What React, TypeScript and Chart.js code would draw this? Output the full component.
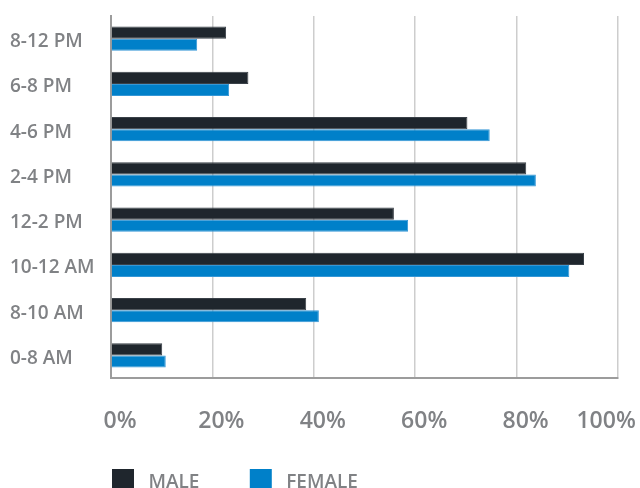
import React, { useEffect, useRef } from "react";
import { Chart, registerables } from "chart.js";

Chart.register(...registerables);

const CATEGORIES = ["8-12 PM", "6-8 PM", "4-6 PM", "2-4 PM", "12-2 PM", "10-12 AM", "8-10 AM", "0-8 AM"];
const MALE = [22.7, 27.1, 70.3, 81.9, 55.8, 93.3, 38.5, 10.1];
const FEMALE = [17.0, 23.3, 74.7, 83.8, 58.6, 90.4, 41.0, 10.8];
const SERIES_NAMES = ["MALE", "FEMALE"];
const X_MIN = 0;
const X_MAX = 100;
const X_STEP = 20;

const MALE_COLOR = "#1f262d";
const FEMALE_COLOR = "#0080c9";
const TEXT_COLOR = "#808285";
const FONT = "'Open Sans', 'DejaVu Sans', sans-serif";

export default function App() {
  const ref = useRef<HTMLCanvasElement | null>(null);

  useEffect(() => {
    const canvas = ref.current;
    if (!canvas) return;
    const chart = new Chart(canvas, {
      type: "bar",
      data: {
        labels: CATEGORIES,
        datasets: [
          {
            label: SERIES_NAMES[0],
            data: MALE,
            backgroundColor: MALE_COLOR,
            borderColor: "#3a4148",
            borderWidth: 1,
            categoryPercentage: 0.54,
            barPercentage: 1.0,
          },
          {
            label: SERIES_NAMES[1],
            data: FEMALE,
            backgroundColor: FEMALE_COLOR,
            borderColor: "#3597d6",
            borderWidth: 1,
            categoryPercentage: 0.54,
            barPercentage: 1.0,
          },
        ],
      },
      options: {
        indexAxis: "y",
        animation: false,
        responsive: false,
        maintainAspectRatio: false,
        layout: { padding: { top: 16, left: 10, right: 22, bottom: 0 } },
        scales: {
          x: {
            min: X_MIN,
            max: X_MAX,
            grid: { color: "#cdcdcd", lineWidth: 1.5, drawTicks: false },
            border: { display: true, color: "#9c9c9c", width: 2 },
            ticks: {
              stepSize: X_STEP,
              autoSkip: false,
              maxRotation: 0,
              minRotation: 0,
              padding: 30,
              labelOffset: 9,
              color: TEXT_COLOR,
              font: { family: FONT, size: 23, weight: "600" },
              callback: (v: any) => (Number(v) === X_MAX ? `${v}%       ` : `${v}%`),
            },
            afterFit: (s: any) => {
              s.height = 90;
              s.paddingLeft = 0;
              s.paddingRight = 0;
            },
          },
          y: {
            grid: { display: false, drawTicks: false },
            border: { display: true, color: "#9c9c9c", width: 2 },
            ticks: {
              crossAlign: "far",
              labelOffset: 3,
              color: TEXT_COLOR,
              font: { family: FONT, size: 19, weight: "600" },
            },
            afterFit: (s: any) => {
              s.width = 101;
            },
          },
        },
        plugins: {
          tooltip: { enabled: false },
          legend: {
            position: "bottom",
            align: "start",
            fullSize: false,
            labels: {
              boxWidth: 22,
              boxHeight: 28,
              padding: 1,
              color: TEXT_COLOR,
              font: { family: FONT, size: 19, weight: "600" },
              generateLabels: (c: any) => {
                const items = Chart.defaults.plugins.legend.labels.generateLabels(c);
                return items.map((it: any, i: number) => ({
                  ...it,
                  text: i === 0 ? ` ${it.text}          ` : ` ${it.text}`,
                  lineWidth: 0,
                  strokeStyle: "rgba(0,0,0,0)",
                }));
              },
            },
          },
        },
      },
    });
    return () => chart.destroy();
  }, []);

  return (
    <div style={{ position: "absolute", left: 0, top: 0, width: 640, height: 507 }}>
      <canvas ref={ref} width={640} height={507} />
    </div>
  );
}
